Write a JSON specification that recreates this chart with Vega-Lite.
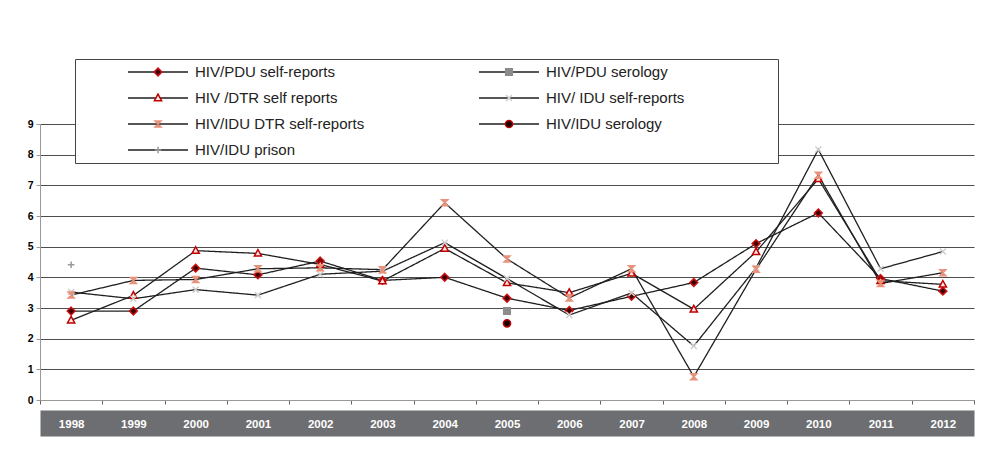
{
  "$schema": "https://vega.github.io/schema/vega-lite/v6.json",
  "width": 934,
  "height": 276,
  "autosize": {"type": "none"},
  "padding": {"left": 40, "top": 124, "right": 7, "bottom": 74},
  "background": "white",
  "config": {"view": {"stroke": null}, "font": "Liberation Sans"},
  "data": {
    "values": [
      {"series": "HIV/PDU self-reports", "year": "1998", "value": 2.9},
      {"series": "HIV/PDU self-reports", "year": "1999", "value": 2.9},
      {"series": "HIV/PDU self-reports", "year": "2000", "value": 4.3},
      {"series": "HIV/PDU self-reports", "year": "2001", "value": 4.08},
      {"series": "HIV/PDU self-reports", "year": "2002", "value": 4.53},
      {"series": "HIV/PDU self-reports", "year": "2003", "value": 3.9},
      {"series": "HIV/PDU self-reports", "year": "2004", "value": 4.0},
      {"series": "HIV/PDU self-reports", "year": "2005", "value": 3.32},
      {"series": "HIV/PDU self-reports", "year": "2006", "value": 2.92},
      {"series": "HIV/PDU self-reports", "year": "2007", "value": 3.38},
      {"series": "HIV/PDU self-reports", "year": "2008", "value": 3.83},
      {"series": "HIV/PDU self-reports", "year": "2009", "value": 5.1},
      {"series": "HIV/PDU self-reports", "year": "2010", "value": 6.1},
      {"series": "HIV/PDU self-reports", "year": "2011", "value": 3.96},
      {"series": "HIV/PDU self-reports", "year": "2012", "value": 3.55},
      {"series": "HIV /DTR self reports", "year": "1998", "value": 2.6},
      {"series": "HIV /DTR self reports", "year": "1999", "value": 3.41},
      {"series": "HIV /DTR self reports", "year": "2000", "value": 4.87},
      {"series": "HIV /DTR self reports", "year": "2001", "value": 4.78},
      {"series": "HIV /DTR self reports", "year": "2002", "value": 4.42},
      {"series": "HIV /DTR self reports", "year": "2003", "value": 3.88},
      {"series": "HIV /DTR self reports", "year": "2004", "value": 4.94},
      {"series": "HIV /DTR self reports", "year": "2005", "value": 3.82},
      {"series": "HIV /DTR self reports", "year": "2006", "value": 3.5},
      {"series": "HIV /DTR self reports", "year": "2007", "value": 4.13},
      {"series": "HIV /DTR self reports", "year": "2008", "value": 2.96},
      {"series": "HIV /DTR self reports", "year": "2009", "value": 4.83},
      {"series": "HIV /DTR self reports", "year": "2010", "value": 7.21},
      {"series": "HIV /DTR self reports", "year": "2011", "value": 3.89},
      {"series": "HIV /DTR self reports", "year": "2012", "value": 3.77},
      {"series": "HIV/ IDU self-reports", "year": "1998", "value": 3.52},
      {"series": "HIV/ IDU self-reports", "year": "1999", "value": 3.3},
      {"series": "HIV/ IDU self-reports", "year": "2000", "value": 3.6},
      {"series": "HIV/ IDU self-reports", "year": "2001", "value": 3.42},
      {"series": "HIV/ IDU self-reports", "year": "2002", "value": 4.1},
      {"series": "HIV/ IDU self-reports", "year": "2003", "value": 4.2},
      {"series": "HIV/ IDU self-reports", "year": "2004", "value": 5.13},
      {"series": "HIV/ IDU self-reports", "year": "2005", "value": 3.96},
      {"series": "HIV/ IDU self-reports", "year": "2006", "value": 2.77},
      {"series": "HIV/ IDU self-reports", "year": "2007", "value": 3.49},
      {"series": "HIV/ IDU self-reports", "year": "2008", "value": 1.76},
      {"series": "HIV/ IDU self-reports", "year": "2009", "value": 4.31},
      {"series": "HIV/ IDU self-reports", "year": "2010", "value": 8.17},
      {"series": "HIV/ IDU self-reports", "year": "2011", "value": 4.28},
      {"series": "HIV/ IDU self-reports", "year": "2012", "value": 4.84},
      {"series": "HIV/IDU DTR self-reports", "year": "1998", "value": 3.42},
      {"series": "HIV/IDU DTR self-reports", "year": "1999", "value": 3.9},
      {"series": "HIV/IDU DTR self-reports", "year": "2000", "value": 3.93},
      {"series": "HIV/IDU DTR self-reports", "year": "2001", "value": 4.28},
      {"series": "HIV/IDU DTR self-reports", "year": "2002", "value": 4.31},
      {"series": "HIV/IDU DTR self-reports", "year": "2003", "value": 4.25},
      {"series": "HIV/IDU DTR self-reports", "year": "2004", "value": 6.43},
      {"series": "HIV/IDU DTR self-reports", "year": "2005", "value": 4.6},
      {"series": "HIV/IDU DTR self-reports", "year": "2006", "value": 3.33},
      {"series": "HIV/IDU DTR self-reports", "year": "2007", "value": 4.28},
      {"series": "HIV/IDU DTR self-reports", "year": "2008", "value": 0.76},
      {"series": "HIV/IDU DTR self-reports", "year": "2009", "value": 4.26},
      {"series": "HIV/IDU DTR self-reports", "year": "2010", "value": 7.33},
      {"series": "HIV/IDU DTR self-reports", "year": "2011", "value": 3.8},
      {"series": "HIV/IDU DTR self-reports", "year": "2012", "value": 4.15},
      {"series": "HIV/PDU serology", "year": "2005", "value": 2.9},
      {"series": "HIV/IDU serology", "year": "2005", "value": 2.5},
      {"series": "HIV/IDU prison", "year": "1998", "value": 4.41}
    ]
  },
  "layer": [
    {
      "mark": {"type": "line", "color": "#1f1f1f", "strokeWidth": 1.3},
      "encoding": {
        "x": {
          "field": "year", "type": "ordinal",
          "scale": {"type": "band", "paddingInner": 0, "paddingOuter": 0},
          "axis": {
            "title": null, "orient": "bottom", "offset": 23, "zindex": 0,
            "domain": true, "domainColor": "#6d6e71", "domainWidth": 26, "domainCap": "butt",
            "ticks": false, "labels": false, "grid": false
          }
        },
        "y": {
          "field": "value", "type": "quantitative",
          "scale": {"domain": [0, 9], "nice": false},
          "axis": {
            "title": null, "values": [0, 1, 2, 3, 4, 5, 6, 7, 8, 9],
            "grid": true, "gridColor": "#4d4d4d", "gridWidth": 1,
            "domain": true, "domainColor": "#999999", "ticks": true, "tickSize": 4, "tickColor": "#999999",
            "labelFontWeight": "bold", "labelFontSize": 10.5, "labelColor": "#000000", "labelPadding": 3,
            "labelFont": "Liberation Sans"
          }
        },
        "strokeDash": {
          "field": "series", "type": "nominal",
          "scale": {"range": [[1, 0]]},
          "legend": {
            "orient": "none", "legendX": 35, "legendY": -65, "title": null, "direction": "horizontal",
            "values": ["HIV/PDU self-reports", "HIV/PDU serology", "HIV /DTR self reports", "HIV/ IDU self-reports", "HIV/IDU DTR self-reports", "HIV/IDU serology", "HIV/IDU prison"],
            "columns": 2, "columnPadding": 66, "rowPadding": 10, "padding": 5,
            "symbolType": "stroke", "symbolSize": 3600, "symbolStrokeWidth": 1.5, "symbolStrokeColor": "#1f1f1f",
            "symbolOffset": 47, "labelOffset": 6, "clipHeight": 16,
            "labelFont": "Liberation Sans", "labelFontSize": 15, "labelColor": "#222222", "labelLimit": 500,
            "labelExpr": "datum.label == 'HIV/ IDU self-reports' ? datum.label + '\u2800\u2800\u2800\u2800\u2800\u2800\u2800\u2800' : datum.label",
            "fillColor": "white", "strokeColor": "#444444"
          }
        }
      }
    },
    {
      "mark": {"type": "point", "filled": true, "opacity": 1, "size": 3600, "strokeWidth": 1.5},
      "encoding": {
        "x": {
          "field": "year", "type": "ordinal",
          "axis": {
            "title": null, "orient": "bottom", "zindex": 1, "grid": false,
            "domain": true, "domainColor": "#999999", "ticks": true, "tickBand": "extent", "tickSize": 4, "tickColor": "#666666",
            "labelAngle": 0, "labelColor": "white", "labelFontWeight": "bold", "labelFontSize": 11.5,
            "labelFont": "Liberation Sans", "labelBaseline": "middle", "labelPadding": 20
          }
        },
        "y": {
          "field": "value", "type": "quantitative",
          "axis": {
            "title": null, "values": [0, 1, 2, 3, 4, 5, 6, 7, 8, 9],
            "grid": true, "gridColor": "#4d4d4d", "gridWidth": 1,
            "domain": true, "domainColor": "#999999", "ticks": true, "tickSize": 4, "tickColor": "#999999",
            "labelFontWeight": "bold", "labelFontSize": 10.5, "labelColor": "#000000", "labelPadding": 3,
            "labelFont": "Liberation Sans"
          }
        },
        "shape": {
          "field": "series", "type": "nominal",
          "scale": {
            "domain": ["HIV/PDU self-reports", "HIV/PDU serology", "HIV /DTR self reports", "HIV/ IDU self-reports", "HIV/IDU DTR self-reports", "HIV/IDU serology", "HIV/IDU prison"],
            "range": [
              "M0,-0.13L0.13,0L0,0.13L-0.13,0Z",
              "M-0.11,-0.11H0.11V0.11H-0.11Z",
              "M0,-0.13L0.12,0.09L-0.12,0.09Z",
              "M-0.1,-0.1L0.1,0.1M0.1,-0.1L-0.1,0.1",
              "M-0.1,-0.1H0.1L-0.1,0.1H0.1Z",
              "M0.12,0A0.12,0.12,0,1,1,-0.12,0A0.12,0.12,0,1,1,0.12,0Z",
              "M-0.11,0H0.11M0,-0.11V0.11"
            ]
          },
          "legend": {
            "orient": "none", "legendX": 35, "legendY": -65, "title": null, "direction": "horizontal",
            "columns": 2, "columnPadding": 66, "rowPadding": 10, "padding": 5,
            "symbolSize": 3600, "symbolStrokeWidth": 1.5,
            "symbolOffset": 47, "labelOffset": 6, "clipHeight": 16,
            "labelFont": "Liberation Sans", "labelFontSize": 15, "labelOpacity": 0, "labelLimit": 500,
            "labelExpr": "datum.label == 'HIV/ IDU self-reports' ? datum.label + '\u2800\u2800\u2800\u2800\u2800\u2800\u2800\u2800' : datum.label"
          }
        },
        "fill": {
          "field": "series", "type": "nominal",
          "scale": {
            "domain": ["HIV/PDU self-reports", "HIV/PDU serology", "HIV /DTR self reports", "HIV/ IDU self-reports", "HIV/IDU DTR self-reports", "HIV/IDU serology", "HIV/IDU prison"],
            "range": ["#3b0000", "#8c8c8c", "#fbe6e3", "transparent", "#e8927c", "#1a0000", "transparent"]
          },
          "legend": {
            "orient": "none", "legendX": 35, "legendY": -65, "title": null, "direction": "horizontal",
            "columns": 2, "columnPadding": 66, "rowPadding": 10, "padding": 5,
            "symbolSize": 3600, "symbolStrokeWidth": 1.5,
            "symbolOffset": 47, "labelOffset": 6, "clipHeight": 16,
            "labelFont": "Liberation Sans", "labelFontSize": 15, "labelOpacity": 0, "labelLimit": 500,
            "labelExpr": "datum.label == 'HIV/ IDU self-reports' ? datum.label + '\u2800\u2800\u2800\u2800\u2800\u2800\u2800\u2800' : datum.label"
          }
        },
        "stroke": {
          "field": "series", "type": "nominal",
          "scale": {
            "domain": ["HIV/PDU self-reports", "HIV/PDU serology", "HIV /DTR self reports", "HIV/ IDU self-reports", "HIV/IDU DTR self-reports", "HIV/IDU serology", "HIV/IDU prison"],
            "range": ["#cc1111", "#8c8c8c", "#c00000", "#cfcfcf", "#e8927c", "#c00000", "#999999"]
          },
          "legend": {
            "orient": "none", "legendX": 35, "legendY": -65, "title": null, "direction": "horizontal",
            "columns": 2, "columnPadding": 66, "rowPadding": 10, "padding": 5,
            "symbolSize": 3600, "symbolStrokeWidth": 1.5,
            "symbolOffset": 47, "labelOffset": 6, "clipHeight": 16,
            "labelFont": "Liberation Sans", "labelFontSize": 15, "labelOpacity": 0, "labelLimit": 500,
            "labelExpr": "datum.label == 'HIV/ IDU self-reports' ? datum.label + '\u2800\u2800\u2800\u2800\u2800\u2800\u2800\u2800' : datum.label"
          }
        }
      }
    }
  ],
  "resolve": {"axis": {"x": "independent"}}
}
